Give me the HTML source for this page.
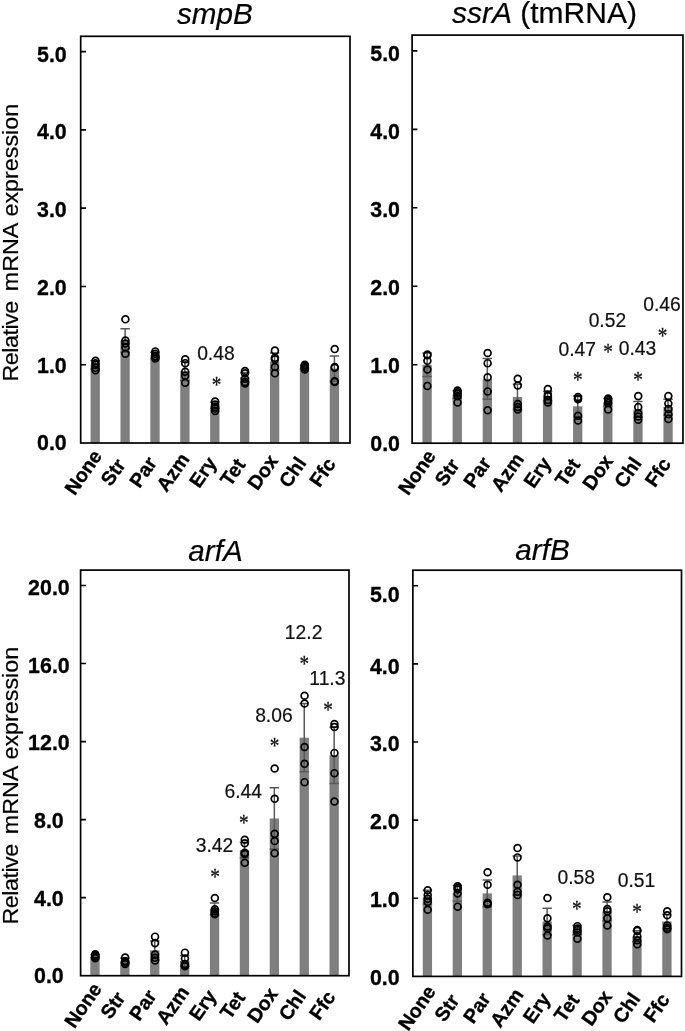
<!DOCTYPE html>
<html lang="en"><head><meta charset="utf-8"><title>Relative mRNA expression</title>
<style>
html,body{margin:0;padding:0;background:#fff;}
svg{display:block;}
.sans{font-family:"Liberation Sans",Arial,Helvetica,sans-serif;}
.serif{font-family:"Liberation Serif","Times New Roman",serif;}
.b{font-weight:bold;}
.i{font-style:italic;}
</style></head><body>
<svg width="685" height="1031" viewBox="0 0 685 1031">
<rect x="0" y="0" width="685" height="1031" fill="#ffffff"/>
<g id="plot1">
<g fill="#7f7f7f">
<rect x="90.55" y="364.72" width="9.3" height="78.28"/>
<rect x="120.45" y="340.45" width="9.3" height="102.55"/>
<rect x="150.35" y="355.33" width="9.3" height="87.67"/>
<rect x="180.25" y="370.98" width="9.3" height="72.02"/>
<rect x="210.15" y="405.43" width="9.3" height="37.57"/>
<rect x="240.05" y="377.24" width="9.3" height="65.76"/>
<rect x="269.95" y="361.59" width="9.3" height="81.41"/>
<rect x="299.85" y="367.07" width="9.3" height="75.93"/>
<rect x="329.75" y="368.63" width="9.3" height="74.37"/>
</g>
<g stroke="#595959" stroke-width="1.5" fill="none">
<path d="M95.2 360.81V368.63M90.5 360.81H99.9M90.5 368.63H99.9"/>
<path d="M125.1 328.71V352.2M120.4 328.71H129.8M120.4 352.2H129.8"/>
<path d="M155 352.2V358.46M150.3 352.2H159.7M150.3 358.46H159.7"/>
<path d="M184.9 361.59V380.38M180.2 361.59H189.6M180.2 380.38H189.6"/>
<path d="M214.8 402.29V408.56M210.1 402.29H219.5M210.1 408.56H219.5"/>
<path d="M244.7 372.55V381.94M240 372.55H249.4M240 381.94H249.4"/>
<path d="M274.6 352.98V370.2M269.9 352.98H279.3M269.9 370.2H279.3"/>
<path d="M304.5 365.5V368.63M299.8 365.5H309.2M299.8 368.63H309.2"/>
<path d="M334.4 356.11V381.16M329.7 356.11H339.1M329.7 381.16H339.1"/>
</g>
<rect x="80.7" y="36.3" width="269.3" height="406.7" fill="none" stroke="#000" stroke-width="1.7"/>
<path d="M80.7 364.72H86M80.7 286.44H86M80.7 208.16H86M80.7 129.88H86M80.7 51.6H86" stroke="#000" stroke-width="1.6" fill="none"/>
<g fill="none" stroke="#000" stroke-width="1.7">
<circle cx="95.5" cy="360.81" r="3.42"/>
<circle cx="95.5" cy="363.15" r="3.42"/>
<circle cx="95.5" cy="364.72" r="3.42"/>
<circle cx="95.5" cy="367.85" r="3.42"/>
<circle cx="95.5" cy="370.2" r="3.42"/>
<circle cx="125.4" cy="319.32" r="3.42"/>
<circle cx="125.4" cy="340.45" r="3.42"/>
<circle cx="125.4" cy="343.58" r="3.42"/>
<circle cx="125.4" cy="347.5" r="3.42"/>
<circle cx="125.4" cy="353.76" r="3.42"/>
<circle cx="155.3" cy="351.41" r="3.42"/>
<circle cx="155.3" cy="353.76" r="3.42"/>
<circle cx="155.3" cy="356.11" r="3.42"/>
<circle cx="155.3" cy="358.46" r="3.42"/>
<circle cx="155.3" cy="356.89" r="3.42"/>
<circle cx="185.2" cy="359.24" r="3.42"/>
<circle cx="185.2" cy="363.15" r="3.42"/>
<circle cx="185.2" cy="371.77" r="3.42"/>
<circle cx="185.2" cy="375.68" r="3.42"/>
<circle cx="185.2" cy="382.72" r="3.42"/>
<circle cx="215.1" cy="401.51" r="3.42"/>
<circle cx="215.1" cy="404.64" r="3.42"/>
<circle cx="215.1" cy="406.99" r="3.42"/>
<circle cx="215.1" cy="408.56" r="3.42"/>
<circle cx="215.1" cy="410.91" r="3.42"/>
<circle cx="245" cy="370.98" r="3.42"/>
<circle cx="245" cy="373.33" r="3.42"/>
<circle cx="245" cy="378.81" r="3.42"/>
<circle cx="245" cy="381.94" r="3.42"/>
<circle cx="245" cy="383.51" r="3.42"/>
<circle cx="274.9" cy="350.63" r="3.42"/>
<circle cx="274.9" cy="357.67" r="3.42"/>
<circle cx="274.9" cy="359.24" r="3.42"/>
<circle cx="274.9" cy="367.07" r="3.42"/>
<circle cx="274.9" cy="373.33" r="3.42"/>
<circle cx="304.8" cy="364.72" r="3.42"/>
<circle cx="304.8" cy="365.5" r="3.42"/>
<circle cx="304.8" cy="367.07" r="3.42"/>
<circle cx="304.8" cy="367.85" r="3.42"/>
<circle cx="304.8" cy="369.42" r="3.42"/>
<circle cx="334.7" cy="349.06" r="3.42"/>
<circle cx="334.7" cy="367.07" r="3.42"/>
<circle cx="334.7" cy="367.85" r="3.42"/>
<circle cx="334.7" cy="381.16" r="3.42"/>
<circle cx="334.7" cy="381.94" r="3.42"/>
</g>
<g class="sans b" font-size="21.4" text-anchor="middle" fill="#000" stroke="#000" stroke-width="0.3">
<text transform="translate(51.9 442.35) scale(1 1.045)" y="7.66">0.0</text>
<text transform="translate(51.9 364.6) scale(1 1.045)" y="7.66">1.0</text>
<text transform="translate(51.9 286.85) scale(1 1.045)" y="7.66">2.0</text>
<text transform="translate(51.9 209.1) scale(1 1.045)" y="7.66">3.0</text>
<text transform="translate(51.9 131.35) scale(1 1.045)" y="7.66">4.0</text>
<text transform="translate(51.9 53.6) scale(1 1.045)" y="7.66">5.0</text>
</g>
<g class="sans b" font-size="19.7" text-anchor="middle" fill="#000" stroke="#000" stroke-width="0.35">
<text transform="translate(83.9 472.7) rotate(-55)" y="5.91">None</text>
<text transform="translate(113.8 472.7) rotate(-55)" y="5.91">Str</text>
<text transform="translate(143.7 472.7) rotate(-55)" y="5.91">Par</text>
<text transform="translate(173.6 472.7) rotate(-55)" y="5.91">Azm</text>
<text transform="translate(203.5 472.7) rotate(-55)" y="5.91">Ery</text>
<text transform="translate(233.4 472.7) rotate(-55)" y="5.91">Tet</text>
<text transform="translate(263.3 472.7) rotate(-55)" y="5.91">Dox</text>
<text transform="translate(293.2 472.7) rotate(-55)" y="5.91">Chl</text>
<text transform="translate(323.1 472.7) rotate(-55)" y="5.91">Ffc</text>
</g>
<text class="sans" font-size="29.6" text-anchor="middle" x="214.8" y="23.6" fill="#000" stroke="#000" stroke-width="0.2"><tspan class="i">smpB</tspan></text>
<text class="sans" font-size="19.3" text-anchor="middle" x="215.9" y="360.4" fill="#111" stroke="#111" stroke-width="0.2">0.48</text>
<text class="serif" font-size="20.5" text-anchor="middle" transform="translate(216.5 381.7) scale(0.94 1.13)" y="9.22" fill="#111" stroke="#111" stroke-width="0.25">*</text>
</g>
<g id="plot2">
<g fill="#7f7f7f">
<rect x="422.45" y="364.74" width="9.3" height="78.46"/>
<rect x="452.57" y="394.55" width="9.3" height="48.65"/>
<rect x="482.69" y="378.86" width="9.3" height="64.34"/>
<rect x="512.81" y="396.91" width="9.3" height="46.29"/>
<rect x="542.93" y="396.12" width="9.3" height="47.08"/>
<rect x="573.05" y="406.32" width="9.3" height="36.88"/>
<rect x="603.17" y="402.4" width="9.3" height="40.8"/>
<rect x="633.29" y="409.46" width="9.3" height="33.74"/>
<rect x="663.41" y="407.11" width="9.3" height="36.09"/>
</g>
<g stroke="#595959" stroke-width="1.5" fill="none">
<path d="M427.1 352.97V376.51M422.4 352.97H431.8M422.4 376.51H431.8"/>
<path d="M457.22 390.63V398.48M452.52 390.63H461.92M452.52 398.48H461.92"/>
<path d="M487.34 358.46V399.26M482.64 358.46H492.04M482.64 399.26H492.04"/>
<path d="M517.46 384.35V409.46M512.76 384.35H522.16M512.76 409.46H522.16"/>
<path d="M547.58 391.42V400.83M542.88 391.42H552.28M542.88 400.83H552.28"/>
<path d="M577.7 396.12V416.52M573 396.12H582.4M573 416.52H582.4"/>
<path d="M607.82 398.48V406.32M603.12 398.48H612.52M603.12 406.32H612.52"/>
<path d="M637.94 401.62V417.31M633.24 401.62H642.64M633.24 417.31H642.64"/>
<path d="M668.06 399.26V414.95M663.36 399.26H672.76M663.36 414.95H672.76"/>
</g>
<rect x="412.1" y="35.1" width="270.85" height="408.1" fill="none" stroke="#000" stroke-width="1.7"/>
<path d="M412.1 364.74H417.4M412.1 286.28H417.4M412.1 207.82H417.4M412.1 129.36H417.4M412.1 50.9H417.4" stroke="#000" stroke-width="1.6" fill="none"/>
<g fill="none" stroke="#000" stroke-width="1.7">
<circle cx="427.4" cy="354.54" r="3.42"/>
<circle cx="427.4" cy="355.32" r="3.42"/>
<circle cx="427.4" cy="360.82" r="3.42"/>
<circle cx="427.4" cy="369.45" r="3.42"/>
<circle cx="427.4" cy="385.92" r="3.42"/>
<circle cx="457.52" cy="390.63" r="3.42"/>
<circle cx="457.52" cy="392.2" r="3.42"/>
<circle cx="457.52" cy="393.77" r="3.42"/>
<circle cx="457.52" cy="396.12" r="3.42"/>
<circle cx="457.52" cy="402.4" r="3.42"/>
<circle cx="487.64" cy="352.97" r="3.42"/>
<circle cx="487.64" cy="363.17" r="3.42"/>
<circle cx="487.64" cy="377.29" r="3.42"/>
<circle cx="487.64" cy="391.42" r="3.42"/>
<circle cx="487.64" cy="410.25" r="3.42"/>
<circle cx="517.76" cy="378.86" r="3.42"/>
<circle cx="517.76" cy="385.53" r="3.42"/>
<circle cx="517.76" cy="403.97" r="3.42"/>
<circle cx="517.76" cy="407.11" r="3.42"/>
<circle cx="517.76" cy="409.46" r="3.42"/>
<circle cx="547.88" cy="389.06" r="3.42"/>
<circle cx="547.88" cy="394.55" r="3.42"/>
<circle cx="547.88" cy="396.12" r="3.42"/>
<circle cx="547.88" cy="400.05" r="3.42"/>
<circle cx="547.88" cy="402.4" r="3.42"/>
<circle cx="578" cy="396.91" r="3.42"/>
<circle cx="578" cy="398.48" r="3.42"/>
<circle cx="578" cy="399.26" r="3.42"/>
<circle cx="578" cy="415.74" r="3.42"/>
<circle cx="578" cy="420.45" r="3.42"/>
<circle cx="608.12" cy="398.48" r="3.42"/>
<circle cx="608.12" cy="400.05" r="3.42"/>
<circle cx="608.12" cy="401.62" r="3.42"/>
<circle cx="608.12" cy="403.19" r="3.42"/>
<circle cx="608.12" cy="409.46" r="3.42"/>
<circle cx="638.24" cy="396.12" r="3.42"/>
<circle cx="638.24" cy="407.11" r="3.42"/>
<circle cx="638.24" cy="413.39" r="3.42"/>
<circle cx="638.24" cy="416.52" r="3.42"/>
<circle cx="638.24" cy="419.66" r="3.42"/>
<circle cx="668.36" cy="396.12" r="3.42"/>
<circle cx="668.36" cy="403.58" r="3.42"/>
<circle cx="668.36" cy="409.07" r="3.42"/>
<circle cx="668.36" cy="414.17" r="3.42"/>
<circle cx="668.36" cy="418.88" r="3.42"/>
</g>
<g class="sans b" font-size="21.4" text-anchor="middle" fill="#000" stroke="#000" stroke-width="0.3">
<text transform="translate(385.1 442.8) scale(1 1.045)" y="7.66">0.0</text>
<text transform="translate(385.1 364.91) scale(1 1.045)" y="7.66">1.0</text>
<text transform="translate(385.1 287.02) scale(1 1.045)" y="7.66">2.0</text>
<text transform="translate(385.1 209.13) scale(1 1.045)" y="7.66">3.0</text>
<text transform="translate(385.1 131.24) scale(1 1.045)" y="7.66">4.0</text>
<text transform="translate(385.1 53.35) scale(1 1.045)" y="7.66">5.0</text>
</g>
<g class="sans b" font-size="19.7" text-anchor="middle" fill="#000" stroke="#000" stroke-width="0.35">
<text transform="translate(417.6 472.8) rotate(-55)" y="5.91">None</text>
<text transform="translate(447.72 472.8) rotate(-55)" y="5.91">Str</text>
<text transform="translate(477.84 472.8) rotate(-55)" y="5.91">Par</text>
<text transform="translate(507.96 472.8) rotate(-55)" y="5.91">Azm</text>
<text transform="translate(538.08 472.8) rotate(-55)" y="5.91">Ery</text>
<text transform="translate(568.2 472.8) rotate(-55)" y="5.91">Tet</text>
<text transform="translate(598.32 472.8) rotate(-55)" y="5.91">Dox</text>
<text transform="translate(628.44 472.8) rotate(-55)" y="5.91">Chl</text>
<text transform="translate(658.56 472.8) rotate(-55)" y="5.91">Ffc</text>
</g>
<text class="sans" font-size="30.0" text-anchor="middle" x="544.4" y="23.2" fill="#000" stroke="#000" stroke-width="0.2"><tspan class="i">ssrA</tspan><tspan xml:space="preserve"> (tmRNA)</tspan></text>
<text class="sans" font-size="19.3" text-anchor="middle" x="577.2" y="355.6" fill="#111" stroke="#111" stroke-width="0.2">0.47</text>
<text class="serif" font-size="20.5" text-anchor="middle" transform="translate(577.8 376.9) scale(0.94 1.13)" y="9.22" fill="#111" stroke="#111" stroke-width="0.25">*</text>
<text class="sans" font-size="19.3" text-anchor="middle" x="607.4" y="327" fill="#111" stroke="#111" stroke-width="0.2">0.52</text>
<text class="serif" font-size="20.5" text-anchor="middle" transform="translate(608 348.3) scale(0.94 1.13)" y="9.22" fill="#111" stroke="#111" stroke-width="0.25">*</text>
<text class="sans" font-size="19.3" text-anchor="middle" x="637.5" y="354.9" fill="#111" stroke="#111" stroke-width="0.2">0.43</text>
<text class="serif" font-size="20.5" text-anchor="middle" transform="translate(638.1 376.2) scale(0.94 1.13)" y="9.22" fill="#111" stroke="#111" stroke-width="0.25">*</text>
<text class="sans" font-size="19.3" text-anchor="middle" x="662" y="311.3" fill="#111" stroke="#111" stroke-width="0.2">0.46</text>
<text class="serif" font-size="20.5" text-anchor="middle" transform="translate(662.6 332.6) scale(0.94 1.13)" y="9.22" fill="#111" stroke="#111" stroke-width="0.25">*</text>
</g>
<g id="plot3">
<g fill="#7f7f7f">
<rect x="90.3" y="956.19" width="9.3" height="19.51"/>
<rect x="120.2" y="960.68" width="9.3" height="15.02"/>
<rect x="150.1" y="950.34" width="9.3" height="25.36"/>
<rect x="180" y="961.07" width="9.3" height="14.63"/>
<rect x="209.9" y="908.98" width="9.3" height="66.72"/>
<rect x="239.8" y="850.06" width="9.3" height="125.64"/>
<rect x="269.7" y="818.45" width="9.3" height="157.25"/>
<rect x="299.6" y="737.68" width="9.3" height="238.02"/>
<rect x="329.5" y="755.24" width="9.3" height="220.46"/>
</g>
<g stroke="#595959" stroke-width="1.5" fill="none">
<path d="M94.95 954.63V957.75M90.25 954.63H99.65M90.25 957.75H99.65"/>
<path d="M124.85 958.34V963.02M120.15 958.34H129.55M120.15 963.02H129.55"/>
<path d="M154.75 940.97V959.7M150.05 940.97H159.45M150.05 959.7H159.45"/>
<path d="M184.65 955.6V966.53M179.95 955.6H189.35M179.95 966.53H189.35"/>
<path d="M214.55 903.12V914.83M209.85 903.12H219.25M209.85 914.83H219.25"/>
<path d="M244.45 842.25V857.86M239.75 842.25H249.15M239.75 857.86H249.15"/>
<path d="M274.35 787.82V849.08M269.65 787.82H279.05M269.65 849.08H279.05"/>
<path d="M304.25 703.54V771.82M299.55 703.54H308.95M299.55 771.82H308.95"/>
<path d="M334.15 726.95V783.53M329.45 726.95H338.85M329.45 783.53H338.85"/>
</g>
<rect x="80.6" y="570.1" width="268.4" height="405.6" fill="none" stroke="#000" stroke-width="1.7"/>
<path d="M80.6 897.66H85.9M80.6 819.62H85.9M80.6 741.58H85.9M80.6 663.54H85.9M80.6 585.5H85.9" stroke="#000" stroke-width="1.6" fill="none"/>
<g fill="none" stroke="#000" stroke-width="1.7">
<circle cx="95.25" cy="954.24" r="3.42"/>
<circle cx="95.25" cy="955.21" r="3.42"/>
<circle cx="95.25" cy="956.19" r="3.42"/>
<circle cx="95.25" cy="957.17" r="3.42"/>
<circle cx="95.25" cy="958.14" r="3.42"/>
<circle cx="125.15" cy="957.56" r="3.42"/>
<circle cx="125.15" cy="961.07" r="3.42"/>
<circle cx="125.15" cy="962.04" r="3.42"/>
<circle cx="125.15" cy="963.02" r="3.42"/>
<circle cx="125.15" cy="963.99" r="3.42"/>
<circle cx="155.05" cy="936.68" r="3.42"/>
<circle cx="155.05" cy="943.12" r="3.42"/>
<circle cx="155.05" cy="954.63" r="3.42"/>
<circle cx="155.05" cy="957.75" r="3.42"/>
<circle cx="155.05" cy="960.48" r="3.42"/>
<circle cx="184.95" cy="952.68" r="3.42"/>
<circle cx="184.95" cy="958.53" r="3.42"/>
<circle cx="184.95" cy="963.99" r="3.42"/>
<circle cx="184.95" cy="965.55" r="3.42"/>
<circle cx="184.95" cy="966.34" r="3.42"/>
<circle cx="214.85" cy="898.05" r="3.42"/>
<circle cx="214.85" cy="909.37" r="3.42"/>
<circle cx="214.85" cy="911.32" r="3.42"/>
<circle cx="214.85" cy="913.27" r="3.42"/>
<circle cx="214.85" cy="914.24" r="3.42"/>
<circle cx="244.75" cy="839.72" r="3.42"/>
<circle cx="244.75" cy="843.23" r="3.42"/>
<circle cx="244.75" cy="852.79" r="3.42"/>
<circle cx="244.75" cy="853.96" r="3.42"/>
<circle cx="244.75" cy="862.74" r="3.42"/>
<circle cx="274.65" cy="768.5" r="3.42"/>
<circle cx="274.65" cy="798.74" r="3.42"/>
<circle cx="274.65" cy="833.86" r="3.42"/>
<circle cx="274.65" cy="841.08" r="3.42"/>
<circle cx="274.65" cy="853.18" r="3.42"/>
<circle cx="304.55" cy="695.73" r="3.42"/>
<circle cx="304.55" cy="703.54" r="3.42"/>
<circle cx="304.55" cy="747.04" r="3.42"/>
<circle cx="304.55" cy="763.82" r="3.42"/>
<circle cx="304.55" cy="782.16" r="3.42"/>
<circle cx="334.45" cy="724.02" r="3.42"/>
<circle cx="334.45" cy="726.95" r="3.42"/>
<circle cx="334.45" cy="752.9" r="3.42"/>
<circle cx="334.45" cy="773.19" r="3.42"/>
<circle cx="334.45" cy="801.48" r="3.42"/>
</g>
<g class="sans b" font-size="21.4" text-anchor="middle" fill="#000" stroke="#000" stroke-width="0.3">
<text transform="translate(48.9 975.4) scale(1 1.045)" y="7.66">0.0</text>
<text transform="translate(48.9 897.68) scale(1 1.045)" y="7.66">4.0</text>
<text transform="translate(48.9 819.96) scale(1 1.045)" y="7.66">8.0</text>
<text transform="translate(48.9 742.24) scale(1 1.045)" y="7.66">12.0</text>
<text transform="translate(48.9 664.52) scale(1 1.045)" y="7.66">16.0</text>
<text transform="translate(48.9 586.8) scale(1 1.045)" y="7.66">20.0</text>
</g>
<g class="sans b" font-size="19.7" text-anchor="middle" fill="#000" stroke="#000" stroke-width="0.35">
<text transform="translate(83.65 1005.7) rotate(-55)" y="5.91">None</text>
<text transform="translate(113.55 1005.7) rotate(-55)" y="5.91">Str</text>
<text transform="translate(143.45 1005.7) rotate(-55)" y="5.91">Par</text>
<text transform="translate(173.35 1005.7) rotate(-55)" y="5.91">Azm</text>
<text transform="translate(203.25 1005.7) rotate(-55)" y="5.91">Ery</text>
<text transform="translate(233.15 1005.7) rotate(-55)" y="5.91">Tet</text>
<text transform="translate(263.05 1005.7) rotate(-55)" y="5.91">Dox</text>
<text transform="translate(292.95 1005.7) rotate(-55)" y="5.91">Chl</text>
<text transform="translate(322.85 1005.7) rotate(-55)" y="5.91">Ffc</text>
</g>
<text class="sans" font-size="29.6" text-anchor="middle" x="215.5" y="560.5" fill="#000" stroke="#000" stroke-width="0.2"><tspan class="i">arfA</tspan></text>
<text class="sans" font-size="19.3" text-anchor="middle" x="214.5" y="852.4" fill="#111" stroke="#111" stroke-width="0.2">3.42</text>
<text class="serif" font-size="20.5" text-anchor="middle" transform="translate(215.1 873.7) scale(0.94 1.13)" y="9.22" fill="#111" stroke="#111" stroke-width="0.25">*</text>
<text class="sans" font-size="19.3" text-anchor="middle" x="243.2" y="798.4" fill="#111" stroke="#111" stroke-width="0.2">6.44</text>
<text class="serif" font-size="20.5" text-anchor="middle" transform="translate(243.8 819.7) scale(0.94 1.13)" y="9.22" fill="#111" stroke="#111" stroke-width="0.25">*</text>
<text class="sans" font-size="19.3" text-anchor="middle" x="273.9" y="721.6" fill="#111" stroke="#111" stroke-width="0.2">8.06</text>
<text class="serif" font-size="20.5" text-anchor="middle" transform="translate(274.5 742.9) scale(0.94 1.13)" y="9.22" fill="#111" stroke="#111" stroke-width="0.25">*</text>
<text class="sans" font-size="19.3" text-anchor="middle" x="303.6" y="639.4" fill="#111" stroke="#111" stroke-width="0.2">12.2</text>
<text class="serif" font-size="20.5" text-anchor="middle" transform="translate(304.2 660.7) scale(0.94 1.13)" y="9.22" fill="#111" stroke="#111" stroke-width="0.25">*</text>
<text class="sans" font-size="19.3" text-anchor="middle" x="327.4" y="684.8" fill="#111" stroke="#111" stroke-width="0.2">11.3</text>
<text class="serif" font-size="20.5" text-anchor="middle" transform="translate(328 706.1) scale(0.94 1.13)" y="9.22" fill="#111" stroke="#111" stroke-width="0.25">*</text>
</g>
<g id="plot4">
<g fill="#7f7f7f">
<rect x="422.75" y="897.28" width="9.3" height="79.12"/>
<rect x="452.69" y="893.37" width="9.3" height="83.03"/>
<rect x="482.63" y="893.37" width="9.3" height="83.03"/>
<rect x="512.57" y="875.41" width="9.3" height="100.99"/>
<rect x="542.51" y="921.5" width="9.3" height="54.9"/>
<rect x="572.45" y="930.09" width="9.3" height="46.31"/>
<rect x="602.39" y="911.34" width="9.3" height="65.06"/>
<rect x="632.33" y="936.34" width="9.3" height="40.06"/>
<rect x="662.27" y="921.5" width="9.3" height="54.9"/>
</g>
<g stroke="#595959" stroke-width="1.5" fill="none">
<path d="M427.4 890.25V904.31M422.7 890.25H432.1M422.7 904.31H432.1"/>
<path d="M457.34 885.56V901.19M452.64 885.56H462.04M452.64 901.19H462.04"/>
<path d="M487.28 880.09V906.65M482.58 880.09H491.98M482.58 906.65H491.98"/>
<path d="M517.22 855.88V894.94M512.52 855.88H521.92M512.52 894.94H521.92"/>
<path d="M547.16 908.22V934.78M542.46 908.22H551.86M542.46 934.78H551.86"/>
<path d="M577.1 925.4V934.78M572.4 925.4H581.8M572.4 934.78H581.8"/>
<path d="M607.04 901.97V920.72M602.34 901.97H611.74M602.34 920.72H611.74"/>
<path d="M636.98 930.87V941.81M632.28 930.87H641.68M632.28 941.81H641.68"/>
<path d="M666.92 914.47V928.53M662.22 914.47H671.62M662.22 928.53H671.62"/>
</g>
<rect x="412.85" y="570.2" width="268.65" height="406.2" fill="none" stroke="#000" stroke-width="1.7"/>
<path d="M412.85 898.28H418.15M412.85 820.16H418.15M412.85 742.04H418.15M412.85 663.92H418.15M412.85 585.8H418.15" stroke="#000" stroke-width="1.6" fill="none"/>
<g fill="none" stroke="#000" stroke-width="1.7">
<circle cx="427.7" cy="890.25" r="3.42"/>
<circle cx="427.7" cy="894.94" r="3.42"/>
<circle cx="427.7" cy="898.84" r="3.42"/>
<circle cx="427.7" cy="901.97" r="3.42"/>
<circle cx="427.7" cy="909.78" r="3.42"/>
<circle cx="457.64" cy="886.34" r="3.42"/>
<circle cx="457.64" cy="887.91" r="3.42"/>
<circle cx="457.64" cy="889.47" r="3.42"/>
<circle cx="457.64" cy="893.37" r="3.42"/>
<circle cx="457.64" cy="906.65" r="3.42"/>
<circle cx="487.58" cy="872.28" r="3.42"/>
<circle cx="487.58" cy="884.78" r="3.42"/>
<circle cx="487.58" cy="902.75" r="3.42"/>
<circle cx="487.58" cy="904.31" r="3.42"/>
<circle cx="487.58" cy="903.53" r="3.42"/>
<circle cx="517.52" cy="848.06" r="3.42"/>
<circle cx="517.52" cy="857.44" r="3.42"/>
<circle cx="517.52" cy="884.78" r="3.42"/>
<circle cx="517.52" cy="891.81" r="3.42"/>
<circle cx="517.52" cy="894.94" r="3.42"/>
<circle cx="547.46" cy="898.06" r="3.42"/>
<circle cx="547.46" cy="918.37" r="3.42"/>
<circle cx="547.46" cy="926.57" r="3.42"/>
<circle cx="547.46" cy="928.53" r="3.42"/>
<circle cx="547.46" cy="935.56" r="3.42"/>
<circle cx="577.4" cy="926.18" r="3.42"/>
<circle cx="577.4" cy="928.53" r="3.42"/>
<circle cx="577.4" cy="930.09" r="3.42"/>
<circle cx="577.4" cy="932.43" r="3.42"/>
<circle cx="577.4" cy="938.68" r="3.42"/>
<circle cx="607.34" cy="897.28" r="3.42"/>
<circle cx="607.34" cy="909" r="3.42"/>
<circle cx="607.34" cy="911.34" r="3.42"/>
<circle cx="607.34" cy="918.37" r="3.42"/>
<circle cx="607.34" cy="925.4" r="3.42"/>
<circle cx="637.28" cy="930.09" r="3.42"/>
<circle cx="637.28" cy="930.87" r="3.42"/>
<circle cx="637.28" cy="936.34" r="3.42"/>
<circle cx="637.28" cy="940.25" r="3.42"/>
<circle cx="637.28" cy="944.15" r="3.42"/>
<circle cx="667.22" cy="911.34" r="3.42"/>
<circle cx="667.22" cy="915.25" r="3.42"/>
<circle cx="667.22" cy="925.4" r="3.42"/>
<circle cx="667.22" cy="927.75" r="3.42"/>
<circle cx="667.22" cy="929.31" r="3.42"/>
</g>
<g class="sans b" font-size="21.4" text-anchor="middle" fill="#000" stroke="#000" stroke-width="0.3">
<text transform="translate(384.8 976.9) scale(1 1.045)" y="7.66">0.0</text>
<text transform="translate(384.8 899.06) scale(1 1.045)" y="7.66">1.0</text>
<text transform="translate(384.8 821.22) scale(1 1.045)" y="7.66">2.0</text>
<text transform="translate(384.8 743.38) scale(1 1.045)" y="7.66">3.0</text>
<text transform="translate(384.8 665.54) scale(1 1.045)" y="7.66">4.0</text>
<text transform="translate(384.8 594) scale(1 1.045)" y="7.66">5.0</text>
</g>
<g class="sans b" font-size="19.7" text-anchor="middle" fill="#000" stroke="#000" stroke-width="0.35">
<text transform="translate(417.6 1008.3) rotate(-55)" y="5.91">None</text>
<text transform="translate(447.54 1008.3) rotate(-55)" y="5.91">Str</text>
<text transform="translate(477.48 1008.3) rotate(-55)" y="5.91">Par</text>
<text transform="translate(507.42 1008.3) rotate(-55)" y="5.91">Azm</text>
<text transform="translate(537.36 1008.3) rotate(-55)" y="5.91">Ery</text>
<text transform="translate(567.3 1008.3) rotate(-55)" y="5.91">Tet</text>
<text transform="translate(597.24 1008.3) rotate(-55)" y="5.91">Dox</text>
<text transform="translate(627.18 1008.3) rotate(-55)" y="5.91">Chl</text>
<text transform="translate(657.12 1008.3) rotate(-55)" y="5.91">Ffc</text>
</g>
<text class="sans" font-size="29.6" text-anchor="middle" x="542.5" y="560.3" fill="#000" stroke="#000" stroke-width="0.2"><tspan class="i">arfB</tspan></text>
<text class="sans" font-size="19.3" text-anchor="middle" x="576.2" y="884.4" fill="#111" stroke="#111" stroke-width="0.2">0.58</text>
<text class="serif" font-size="20.5" text-anchor="middle" transform="translate(576.8 905.7) scale(0.94 1.13)" y="9.22" fill="#111" stroke="#111" stroke-width="0.25">*</text>
<text class="sans" font-size="19.3" text-anchor="middle" x="636.5" y="887.4" fill="#111" stroke="#111" stroke-width="0.2">0.51</text>
<text class="serif" font-size="20.5" text-anchor="middle" transform="translate(637.1 908.7) scale(0.94 1.13)" y="9.22" fill="#111" stroke="#111" stroke-width="0.25">*</text>
</g>
<g class="sans" font-size="23.3" fill="#000" stroke="#000" stroke-width="0.2" transform="translate(18.3 0) rotate(-90) scale(1 0.975)">
<text x="-381.62" y="0" textLength="80.83" lengthAdjust="spacing">Relative</text>
<text x="-291.24" y="0">mRNA</text>
<text x="-216.53" y="0">expression</text>
</g>
<g class="sans" font-size="23.3" fill="#000" stroke="#000" stroke-width="0.2" transform="translate(18.1 543) rotate(-90) scale(1 0.975)">
<text x="-381.62" y="0" textLength="80.83" lengthAdjust="spacing">Relative</text>
<text x="-291.24" y="0">mRNA</text>
<text x="-216.53" y="0">expression</text>
</g>
</svg></body></html>
